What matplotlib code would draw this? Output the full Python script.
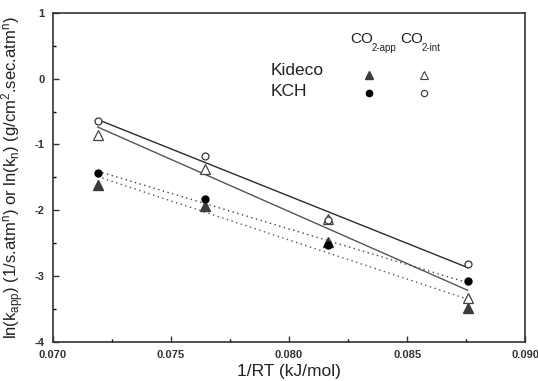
import numpy as np
import matplotlib.pyplot as plt
from matplotlib.transforms import offset_copy

plt.rcParams['font.family'] = ['Liberation Sans', 'DejaVu Sans']
plt.rcParams['mathtext.fontset'] = 'custom'
plt.rcParams['mathtext.rm'] = 'Liberation Sans'
plt.rcParams['mathtext.it'] = 'Liberation Sans'
plt.rcParams['mathtext.default'] = 'regular'

# 1/RT values (kJ/mol)
invRT = [0.07189, 0.07646, 0.08164, 0.08757]

kideco_app = [-1.62, -1.93, -2.49, -3.48]
kideco_int = [-0.85, -1.37, -2.14, -3.33]
kch_app = [-1.43, -1.83, -2.53, -3.08]
kch_int = [-0.64, -1.18, -2.15, -2.82]

xticks = [0.070, 0.075, 0.080, 0.085, 0.090]
yticks = [-4, -3, -2, -1, 0, 1]

fig = plt.figure(figsize=(5.38, 3.81), dpi=100)
ax = fig.add_axes([0.0985, 0.103, 0.8775, 0.863])

x = np.array(invRT)

def fitline(y, style, color, lw):
    p = np.polyfit(x, y, 1)
    ax.plot(x, np.polyval(p, x), linestyle=style, color=color, lw=lw, zorder=1)

fitline(kch_int, '-', '#2a2a2a', 1.0)
fitline(kideco_int, '-', '#555555', 1.0)
fitline(kch_app, (0, (1, 2.5)), '#444444', 1.0)
fitline(kideco_app, (0, (1, 2.5)), '#555555', 1.0)

ax.plot(x, kideco_app, '^', color='#3c3c3c', ms=7, ls='none', zorder=3)
ax.plot(x, kideco_int, '^', mfc='white', mec='#444444', mew=0.9, ms=7, ls='none', zorder=3)
ax.plot(x, kch_app, 'o', color='black', ms=5, ls='none', zorder=3)
ax.plot(x, kch_int, 'o', mfc='white', mec='#333333', mew=0.9, ms=5, ls='none', zorder=3)

# manual legend: CO with small subscript
def co_label(xpos, sub):
    ax.text(xpos, 0.60, 'CO', fontsize=11, va='center', color='#222222')
    tr = offset_copy(ax.transData, fig=fig, x=15.3, y=-6.3, units='points')
    ax.text(xpos, 0.60, sub, fontsize=7, va='center', color='#222222', transform=tr)

co_label(0.08258, '2-app')
co_label(0.08471, '2-int')
ax.text(0.0792, 0.12, 'Kideco', fontsize=12.5, va='center', color='#222222')
ax.text(0.0792, -0.19, 'KCH', fontsize=12.5, va='center', color='#222222')
ax.plot([0.0834], [0.05], '^', color='#3c3c3c', ms=6)
ax.plot([0.0857], [0.05], '^', mfc='white', mec='#444444', mew=0.8, ms=6)
ax.plot([0.0834], [-0.22], 'o', color='black', ms=4.5)
ax.plot([0.0857], [-0.22], 'o', mfc='white', mec='#333333', mew=0.8, ms=4.5)

ax.set_xlim(0.070, 0.090)
ax.set_ylim(-4, 1)
ax.set_xticks(xticks)
ax.set_xticklabels(['%.3f' % t for t in xticks], fontweight='bold')
ax.set_yticks(yticks)
ax.set_yticklabels([str(t) for t in yticks], fontweight='bold')
ax.set_xticks([0.0725, 0.0775, 0.0825, 0.0875], minor=True)
ax.set_yticks([-3.5, -2.5, -1.5, -0.5, 0.5], minor=True)
ax.tick_params(direction='in', which='major', length=4, width=1, labelsize=8, colors='#333333', pad=6)
ax.tick_params(direction='in', which='minor', length=2, width=1)
for s in ax.spines.values():
    s.set_color('#333333')
    s.set_linewidth(1.2)

ax.set_xlabel('1/RT (kJ/mol)', fontsize=12.5, color='#222222', labelpad=3)
ax.set_ylabel('ln(k$_{app}$) (1/s.atm$^n$) or ln(k$_n$) (g/cm$^2$.sec.atm$^n$)',
              fontsize=12, color='#222222', labelpad=6)

fig.savefig('out.png', dpi=100)
